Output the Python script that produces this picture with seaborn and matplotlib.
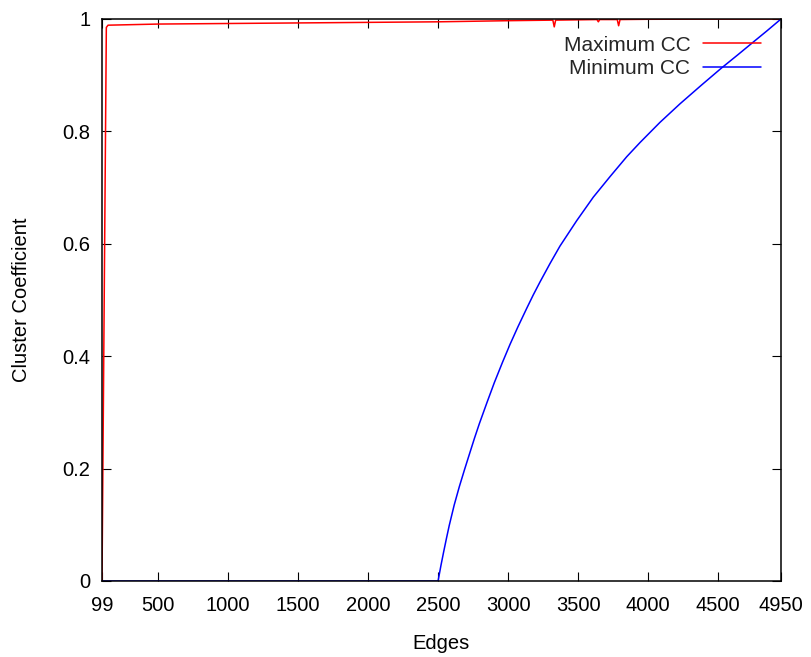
import matplotlib
matplotlib.use("Agg")
import matplotlib.pyplot as plt
import seaborn as sns
import pandas as pd

# Maximum clustering coefficient reached for each number of edges
max_edges = [99, 130, 142, 500, 1000, 1500, 2000, 2500, 3000, 3320, 3330, 3340,
             3635, 3645, 3655, 3780, 3790, 3800, 4000, 4500, 4950]
max_cc = [0.0, 0.985, 0.989, 0.991, 0.992, 0.993, 0.994, 0.995, 0.997, 0.998, 0.986, 0.998,
          0.999, 0.995, 0.999, 0.999, 0.988, 0.999, 0.9995, 0.9998, 1.0]

# Minimum clustering coefficient reached for each number of edges
min_edges = [99, 2500, 2520, 2540, 2560, 2580, 2615, 2652, 2690, 2723, 2760, 2795,
             2850, 2902, 2960, 3014, 3070, 3133, 3180, 3228, 3300, 3371, 3490,
             3609, 3730, 3848, 3942, 4085, 4228, 4380, 4526, 4640, 4752, 4850, 4950]
min_cc = [0.0, 0.0, 0.027, 0.052, 0.076, 0.099, 0.135, 0.168, 0.199, 0.225, 0.254, 0.280,
          0.318, 0.353, 0.389, 0.421, 0.452, 0.485, 0.509, 0.532, 0.565, 0.596, 0.641,
          0.683, 0.720, 0.755, 0.780, 0.816, 0.849, 0.882, 0.913, 0.936, 0.959, 0.979, 1.0]

x_ticks = [99, 500, 1000, 1500, 2000, 2500, 3000, 3500, 4000, 4500, 4950]
y_ticks = [0, 0.2, 0.4, 0.6, 0.8, 1]
y_tick_labels = ["0", "0.2", "0.4", "0.6", "0.8", "1"]

df = pd.concat([
    pd.DataFrame({"Edges": max_edges, "CC": max_cc, "series": "Maximum CC"}),
    pd.DataFrame({"Edges": min_edges, "CC": min_cc, "series": "Minimum CC"}),
])

sns.set_theme(style="white")
plt.rcParams["font.family"] = ["Liberation Sans", "DejaVu Sans"]

fig = plt.figure(figsize=(8.11, 6.57), dpi=100)
ax = fig.add_axes([102 / 811, 1 - 581 / 657, 679 / 811, 562 / 657])

sns.lineplot(data=df, x="Edges", y="CC", hue="series",
             palette={"Maximum CC": "#ff0000", "Minimum CC": "#0000ff"},
             linewidth=1.1, ax=ax, sort=False, estimator=None)

ax.set_xlim(99, 4950)
ax.set_ylim(0, 1)
ax.set_xticks(x_ticks)
ax.set_xticklabels([str(t) for t in x_ticks])
ax.set_yticks(y_ticks)
ax.set_yticklabels(y_tick_labels)

ax.tick_params(axis="x", direction="in", length=6.5, width=0.8, color="black",
               top=True, bottom=True, labelsize=14.5, pad=11, labelcolor="black")
ax.tick_params(axis="y", direction="in", length=6.5, width=0.8, color="black",
               left=True, right=True, labelsize=14.5, pad=8.5, labelcolor="black")

for s in ax.spines.values():
    s.set_visible(True)
    s.set_color("black")
    s.set_linewidth(1.1)

ax.set_xlabel("Edges", fontsize=14.5, color="black", labelpad=13.5)
ax.set_ylabel("Cluster Coefficient", fontsize=14.5, color="black", labelpad=22.5)

leg = ax.legend(loc="upper right", bbox_to_anchor=(0.983, 0.985), frameon=False,
                markerfirst=False, fontsize=15, handlelength=2.8,
                handletextpad=0.6, labelspacing=0.2, borderaxespad=0.0)
for line in leg.get_lines():
    line.set_linewidth(1.1)

fig.savefig("out.png", dpi=100)
